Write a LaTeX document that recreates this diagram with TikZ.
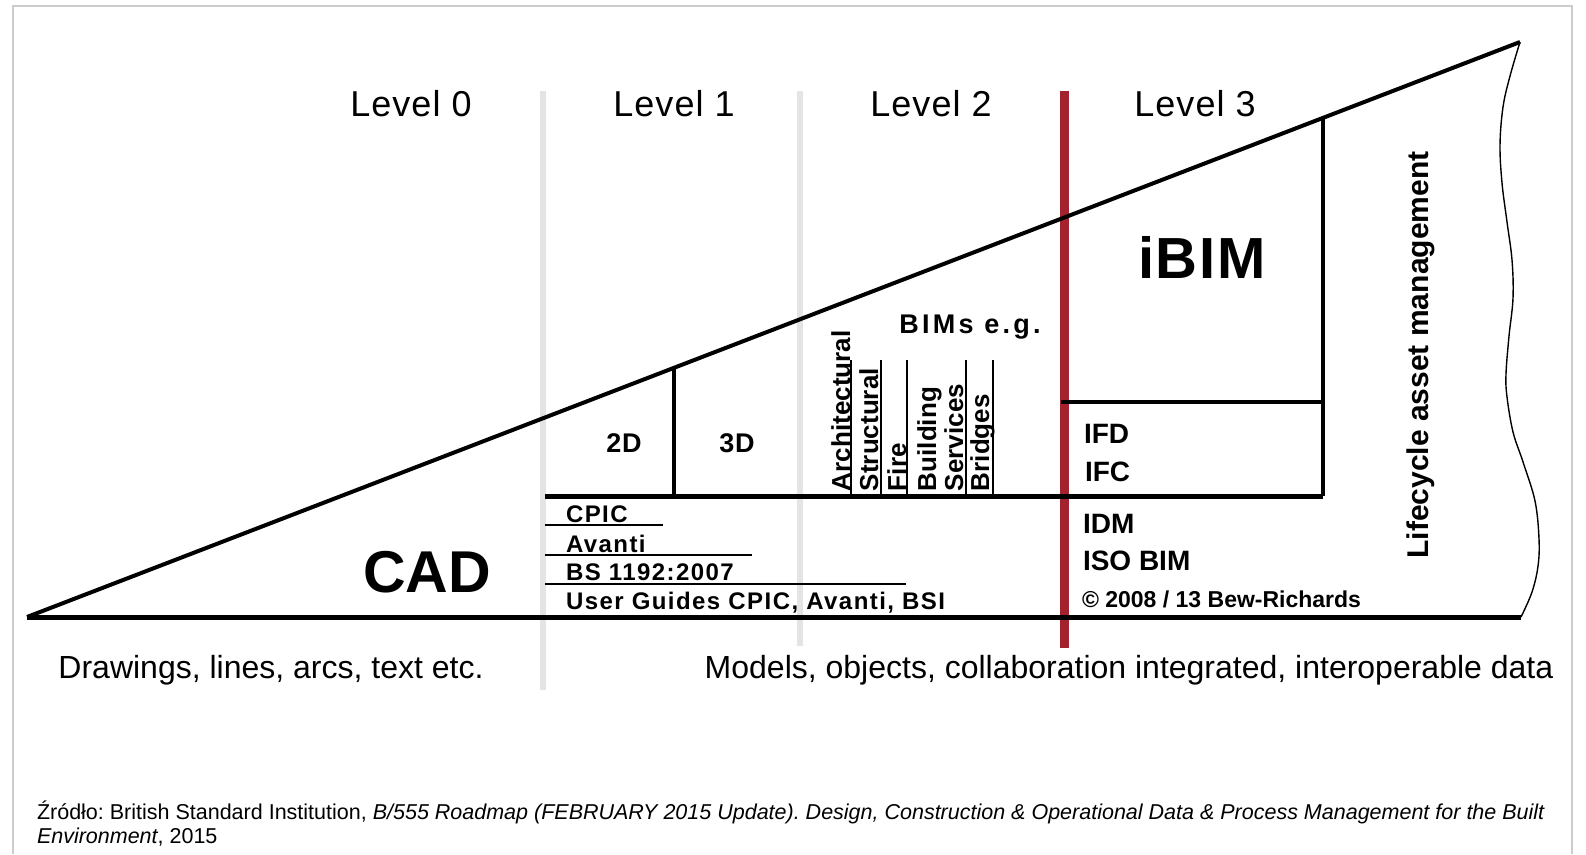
\documentclass[tikz,border=0pt]{standalone}
\usepackage{fontspec}
\setmainfont{Liberation Sans}
\newfontfamily\lvlfont[LetterSpace=3]{Liberation Sans}
\newfontfamily\wideA[LetterSpace=6]{Liberation Sans}
\newfontfamily\wideB[LetterSpace=12]{Liberation Sans}
\newfontfamily\wideC[LetterSpace=3]{Liberation Sans}
\definecolor{framegray}{HTML}{CCCCCC}
\definecolor{levgray}{HTML}{E4E4E4}
\definecolor{lvred}{HTML}{A4222D}
\frenchspacing
\begin{document}
\begin{tikzpicture}[x=1pt,y=-1pt,
  txt/.style={inner sep=0pt, outer sep=0pt},
  lvl/.style={txt, anchor=base, font=\lvlfont\fontsize{36}{40}\selectfont},
  sepline/.style={levgray, line width=6pt},
  blk/.style={black, line width=4pt},
  blkb/.style={black, line width=5pt},
  thin/.style={black, line width=1.5pt},
  vlab/.style={txt, rotate=90, anchor=base west, font=\bfseries\fontsize{26}{28}\selectfont},
  std/.style={txt, anchor=base west, font=\bfseries\fontsize{24}{26}\wideA\selectfont},
  lthree/.style={txt, anchor=base west, font=\bfseries\fontsize{28}{30}\selectfont},
  bottomtxt/.style={txt, anchor=base, font=\fontsize{32}{36}\selectfont},
  captxt/.style={txt, anchor=base west, font=\fontsize{21.5}{24}\selectfont\frenchspacing}]
\useasboundingbox (0,0) rectangle (1586,854);
\fill[white] (0,0) rectangle (1586,854);
% outer frame
\draw[framegray, line width=1.5pt] (13,854) -- (13,6) -- (1572,6) -- (1572,854);

% key points
\coordinate (A) at (27,617);
\coordinate (T) at (1520,42);
\coordinate (E) at (1521,617);
\coordinate (D1) at (674,367.8);
\coordinate (D1b) at (674,496);
\coordinate (H1) at (545,496);
\coordinate (H2) at (1323,496);
\coordinate (B1) at (1323,118);
\coordinate (B2) at (1061,402);
\coordinate (B3) at (1323,402);

% level separators
\coordinate (G1t) at (543,91); \coordinate (G1b) at (543,690);
\coordinate (G2t) at (800,91); \coordinate (G2b) at (800,646);
\coordinate (R1t) at (1064,91); \coordinate (R1b) at (1064,648);
\draw[sepline] (G1t) -- (G1b);
\draw[sepline] (G2t) -- (G2b);
\draw[lvred, line width=9pt] (R1t) -- (R1b);

% triangle
\draw[blk] (A) -- (T);
\draw[blkb] (A) -- (E);
\draw[black, line width=1.4pt] plot[smooth, tension=0.6] coordinates {
 (1520,42) (1510,76) (1503,107) (1500,145) (1502,183) (1507,222) (1512,260)
 (1513,298) (1509,336) (1506,374) (1507,397) (1513,432) (1523,462)
 (1535,501) (1539,539) (1538,566) (1532,592) (1521,617)};

% inner structure
\draw[blk] (D1) -- (D1b);
\draw[blkb] (H1) -- (H2);
\draw[blk] (B1) -- (H2);
\draw[blk] (B2) -- (B3);

% underlines for standards
\coordinate (U0) at (545,525); \coordinate (U1) at (663,525);
\coordinate (V0) at (545,555); \coordinate (V1) at (752,555);
\coordinate (W0) at (545,584); \coordinate (W1) at (906,584);
\draw[thin] (U0) -- (U1);
\draw[thin] (V0) -- (V1);
\draw[thin] (W0) -- (W1);

% BIM separators
\foreach \n/\x in {s1/851,s2/881,s3/907,s4/966,s5/993}{
  \coordinate (\n t) at (\x,360); \coordinate (\n b) at (\x,496);
  \draw[thin] (\n t) -- (\n b);
}

% level labels
\node[lvl] (lev0) at (411,116) {Level 0};
\node[lvl] (lev1) at (674,116) {Level 1};
\node[lvl] (lev2) at (931,116) {Level 2};
\node[lvl] (lev3) at (1195,116) {Level 3};

% main labels
\node[txt, anchor=base, font=\bfseries\fontsize{59}{62}\selectfont] (cad) at (427,592) {CAD};
\node[txt, anchor=base, font=\bfseries\fontsize{27}{30}\wideC\selectfont] (twoD) at (624,452) {2D};
\node[txt, anchor=base, font=\bfseries\fontsize{27}{30}\wideC\selectfont] (threeD) at (737,452) {3D};
\node[txt, anchor=base, font=\bfseries\fontsize{27}{30}\wideB\selectfont] (bims) at (970,333) {BIMs e.g.};
\node[txt, anchor=base, font=\bfseries\fontsize{58}{62}\wideC\selectfont] (ibim) at (1202,278) {iBIM};

% vertical BIM labels
\node[vlab] (arch) at (850,491) {Architectural};
\node[vlab] (struc) at (878,491) {Structural};
\node[vlab] (fire) at (906,491) {Fire};
\node[vlab] (build) at (936,491) {Building};
\node[vlab] (serv) at (963,491) {Services};
\node[vlab] (bridg) at (989,491) {Bridges};

% standards
\node[std] (cpic) at (566,522) {CPIC};
\node[std] (avanti) at (566,552) {Avanti};
\node[std] (bs) at (566,580) {BS 1192:2007};
\node[std] (ug) at (566,609) {User Guides CPIC, Avanti, BSI};

% level 3 items
\node[lthree] (ifd) at (1084,443) {IFD};
\node[lthree] (ifc) at (1085,481) {IFC};
\node[lthree] (idm) at (1083,533) {IDM};
\node[lthree] (iso) at (1083,570) {ISO BIM};
\node[txt, anchor=base west, font=\bfseries\fontsize{23}{25}\selectfont] (copy) at (1082,607) {© 2008 / 13 Bew-Richards};

% lifecycle
\node[txt, rotate=90, anchor=base, font=\bfseries\fontsize{30}{32}\selectfont] (life) at (1428,355) {Lifecycle asset management};

% bottom texts
\node[bottomtxt] (draw) at (271,678) {Drawings, lines, arcs, text etc.};
\node[bottomtxt] (models) at (1129,678) {Models, objects, collaboration integrated, interoperable data};

% caption
\node[captxt] (cap1) at (37,819) {Źródło: British Standard Institution, \textit{B/555 Roadmap (FEBRUARY 2015 Update). Design, Construction \& Operational Data \& Process Management for the Built}};
\node[captxt] (cap2) at (37,843) {\textit{Environment}, 2015};
\end{tikzpicture}
\end{document}
